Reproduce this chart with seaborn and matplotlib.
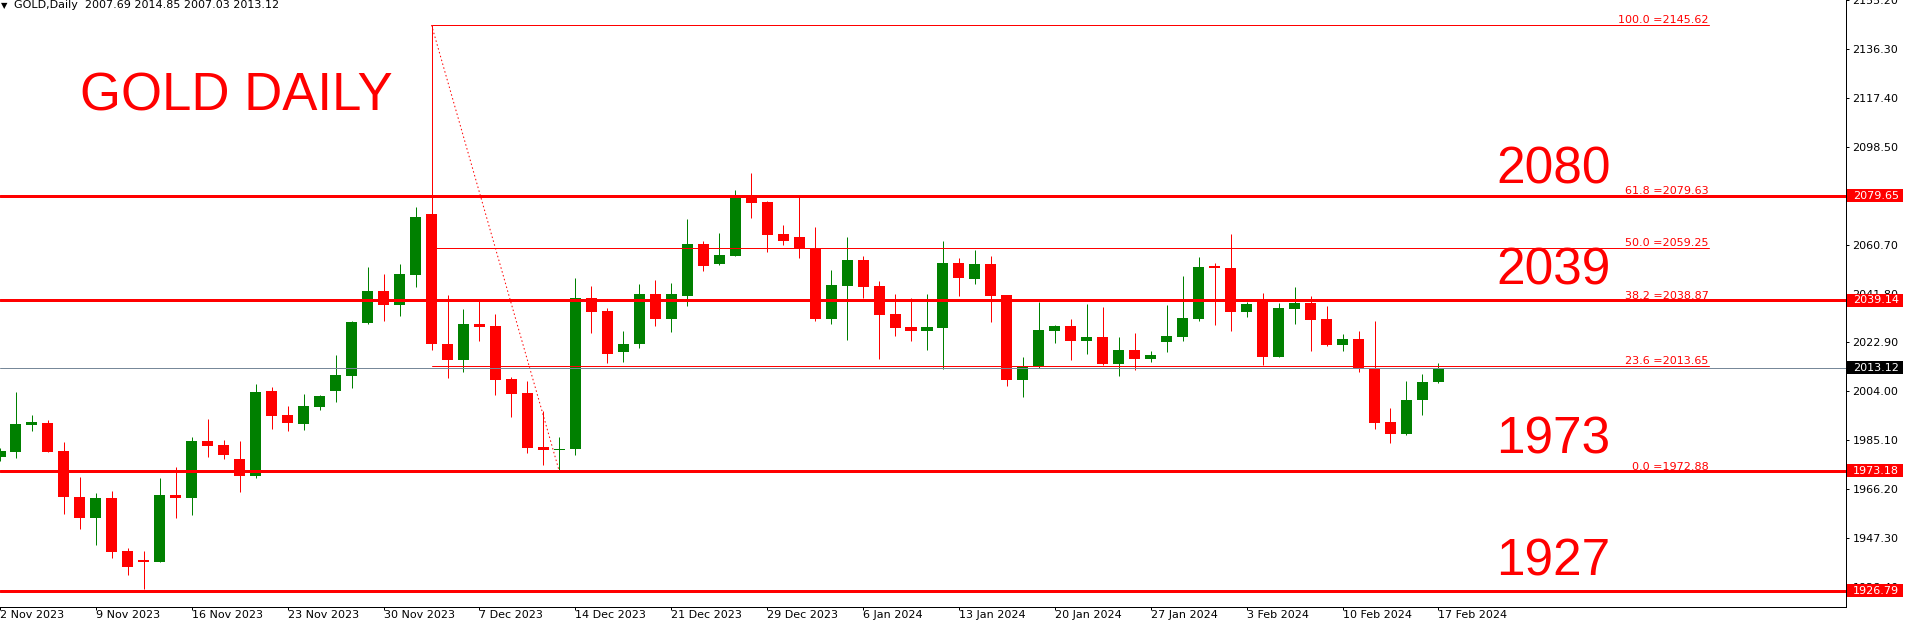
import numpy as np
import pandas as pd
import matplotlib
matplotlib.use("Agg")
import matplotlib.pyplot as plt
import matplotlib.transforms as mtransforms
from matplotlib.patches import Rectangle
import seaborn as sns

# Datos de las velas (barra -1 .. 89)
bars = list(range(-1, 90))
opens = [1978.7, 1980.7, 1991.1, 1991.8, 1980.8, 1963.2, 1955.0, 1962.9, 1942.2, 1938.8,
         1938.1, 1964.0, 1962.6, 1984.7, 1983.1, 1977.8, 1971.4, 2004.0, 1994.8, 1991.4,
         1998.0, 2004.3, 2009.9, 2030.4, 2042.7, 2037.3, 2048.9, 2072.5, 2022.4, 2016.0,
         2030.1, 2029.4, 2008.8, 2003.4, 1982.3, 1981.1, 1981.5, 2040.1, 2035.1, 2019.3,
         2022.1, 2041.7, 2032.0, 2040.9, 2061.0, 2053.3, 2056.4, 2078.7, 2077.2, 2064.8,
         2063.6, 2059.4, 2032.0, 2044.8, 2054.8, 2044.8, 2034.0, 2028.9, 2027.3, 2028.6,
         2053.5, 2047.5, 2053.1, 2041.2, 2008.5, 2013.2, 2027.3, 2029.3, 2023.4, 2025.0,
         2014.6, 2020.0, 2016.6, 2023.1, 2025.0, 2031.9, 2052.1, 2051.6, 2034.6, 2039.3,
         2017.3, 2035.8, 2038.1, 2031.9, 2021.9, 2024.2, 2013.0, 1992.3, 1987.3, 2000.5,
         2007.69]
highs = [1982.0, 2003.8, 1994.9, 1992.9, 1984.3, 1970.9, 1964.8, 1965.5, 1943.3, 1942.2,
         1970.5, 1974.7, 1986.2, 1993.1, 1985.0, 1984.7, 2006.8, 2005.7, 1998.2, 2003.0,
         2002.4, 2018.0, 2031.2, 2052.0, 2049.3, 2053.1, 2075.1, 2145.62, 2041.2, 2035.8,
         2039.1, 2034.0, 2009.6, 2007.8, 1996.5, 1986.5, 2047.9, 2044.8, 2036.3, 2027.4,
         2045.6, 2047.1, 2045.9, 2070.6, 2062.1, 2065.2, 2081.8, 2088.3, 2077.4, 2068.2,
         2079.0, 2067.5, 2050.9, 2063.6, 2056.4, 2046.6, 2041.7, 2039.9, 2041.8, 2062.1,
         2055.5, 2058.6, 2056.2, 2041.4, 2017.3, 2038.6, 2029.6, 2032.0, 2037.7, 2036.7,
         2025.0, 2026.6, 2019.4, 2037.3, 2048.5, 2055.8, 2053.5, 2065.0, 2038.5, 2041.9,
         2038.1, 2044.3, 2040.8, 2036.9, 2026.2, 2027.3, 2031.2, 1997.7, 2008.1, 2010.8,
         2014.85]
lows = [1977.0, 1978.3, 1988.7, 1980.5, 1956.4, 1950.6, 1944.6, 1939.5, 1932.8, 1927.4,
        1938.0, 1955.0, 1956.1, 1978.7, 1977.9, 1964.9, 1970.6, 1989.4, 1988.7, 1989.0,
        1996.6, 2000.0, 2005.4, 2030.0, 2031.2, 2033.1, 2044.3, 2019.8, 2009.3, 2011.6,
        2023.5, 2002.4, 1994.2, 1980.3, 1975.4, 1972.88, 1979.5, 2026.6, 2015.0, 2015.5,
        2020.9, 2029.4, 2027.1, 2037.1, 2050.5, 2052.8, 2056.2, 2071.0, 2057.9, 2060.5,
        2055.6, 2031.2, 2030.1, 2024.0, 2040.1, 2016.6, 2025.5, 2023.5, 2020.0, 2012.7,
        2040.9, 2045.5, 2030.9, 2005.9, 2001.7, 2013.0, 2022.8, 2016.2, 2018.6, 2014.2,
        2009.8, 2012.1, 2015.5, 2019.0, 2023.5, 2031.2, 2029.6, 2027.3, 2032.7, 2014.2,
        2017.1, 2030.0, 2019.6, 2021.6, 2019.6, 2011.5, 1989.6, 1983.9, 1986.9, 1994.7,
        2007.03]
closes = [1980.9, 1991.4, 1992.1, 1980.7, 1963.0, 1955.0, 1962.9, 1941.9, 1936.2, 1938.1,
          1964.0, 1962.6, 1984.7, 1982.9, 1979.4, 1971.4, 2003.8, 1994.5, 1991.9, 1998.2,
          2002.1, 2010.3, 2030.8, 2042.7, 2037.3, 2049.3, 2071.3, 2022.1, 2016.0, 2030.1,
          2028.9, 2008.5, 2003.1, 1982.0, 1981.1, 1981.8, 2040.1, 2034.7, 2018.6, 2022.4,
          2041.7, 2032.0, 2041.7, 2061.0, 2052.5, 2056.7, 2078.7, 2076.7, 2064.4, 2062.1,
          2059.1, 2032.0, 2045.1, 2054.8, 2044.3, 2033.5, 2028.6, 2027.3, 2028.9, 2053.5,
          2047.8, 2053.1, 2040.9, 2008.5, 2013.6, 2027.7, 2029.3, 2023.6, 2025.0, 2014.6,
          2020.0, 2016.6, 2018.1, 2025.4, 2032.3, 2051.9, 2051.7, 2034.6, 2037.7, 2017.3,
          2036.2, 2038.1, 2031.6, 2021.9, 2024.2, 2012.7, 1991.9, 1987.3, 2000.8, 2007.7,
          2013.12]

# Etiquetas del eje X (cada 6 barras)
date_ticks = [-1, 5, 11, 17, 23, 29, 35, 41, 47, 53, 59, 65, 71, 77, 83, 89]
date_labels = ['2 Nov 2023', '9 Nov 2023', '16 Nov 2023', '23 Nov 2023', '30 Nov 2023',
               '7 Dec 2023', '14 Dec 2023', '21 Dec 2023', '29 Dec 2023', '6 Jan 2024',
               '13 Jan 2024', '20 Jan 2024', '27 Jan 2024', '3 Feb 2024', '10 Feb 2024',
               '17 Feb 2024']

# Niveles horizontales y textos grandes
level_prices = [2079.65, 2039.14, 1973.18, 1926.79]
big_labels = ['2080', '2039', '1973', '1927']
big_label_y = [2084.3, 2045.2, 1980.0, 1932.7]
bid_price = 2013.12

# Fibonacci
fib_start, fib_end = 26, 34
fib_pct = ['100.0', '61.8', '50.0', '38.2', '23.6', '0.0']
fib_prices = [2145.62, 2079.63, 2059.25, 2038.87, 2013.65, 1972.88]

y_ticks = [2155.20 - 18.9 * i for i in range(13)]

df = pd.DataFrame({'bar': bars, 'open': opens, 'high': highs, 'low': lows, 'close': closes})
df['up'] = df['close'] >= df['open']
df['color'] = np.where(df['up'], '#008000', '#ff0000')
df['bottom'] = df[['open', 'close']].min(axis=1)
df['height'] = (df['close'] - df['open']).abs().clip(lower=0.7)

sns.set_theme(style='white')
plt.rcParams['font.family'] = ['DejaVu Sans']

PX = 0.72  # 1 pixel en puntos
fig = plt.figure(figsize=(19.11, 6.27), dpi=100)
ax = fig.add_axes([0, 20.3 / 627, 1846 / 1911, 1 - 20.3 / 627])
ax.set_facecolor('white')

# Velas
ax.vlines(df['bar'], df['low'], df['high'], colors=df['color'], linewidth=1.0 * PX, zorder=2)
ax.bar(df['bar'], df['height'], bottom=df['bottom'], width=0.69, color=df['color'],
       linewidth=0, zorder=3)

# Fibonacci
for pct, p in zip(fib_pct, fib_prices):
    ax.plot([fib_start, 105.9], [p, p], color='#ff0000', linewidth=1.0 * PX, zorder=4)
    ax.annotate(f'{pct} ={p:.2f}', xy=(105.9, p), xytext=(0, 2), textcoords='offset pixels',
                ha='right', va='baseline', color='#ff0000', fontsize=8, zorder=4)
ax.plot([fib_start, fib_end], [fib_prices[0], fib_prices[-1]], color='#ff0000',
        linewidth=1.0 * PX, linestyle=(0, (1.5, 2.5)), zorder=4)

# Línea bid
ax.axhline(bid_price, color='#778899', linewidth=1.0 * PX, zorder=4)

# Niveles gruesos
for p in level_prices:
    ax.axhline(p, color='#ff0000', linewidth=3.0 * PX, zorder=5)

# Textos grandes
for txt, yy in zip(big_labels, big_label_y):
    ax.text(92.6, yy, txt, color='#ff0000', fontsize=37, family='Liberation Sans',
            ha='left', va='baseline', zorder=6)
ax.text(4.0, 2112.5, 'GOLD DAILY', color='#ff0000', fontsize=38, family='Liberation Sans',
        ha='left', va='baseline', zorder=6)

ax.set_xlim(-0.83, 114.5)
ax.set_ylim(1920.7, 2155.3)

# Ejes
for side in ['left', 'top']:
    ax.spines[side].set_visible(False)
for side in ['right', 'bottom']:
    ax.spines[side].set_color('black')
    ax.spines[side].set_linewidth(1.0 * PX)

ax.yaxis.tick_right()
ax.set_yticks(y_ticks)
ax.set_yticklabels([f'{v:.2f}' for v in y_ticks])
ax.tick_params(axis='y', which='major', direction='out', length=3 * PX, width=PX,
               pad=2.4, labelsize=8, labelcolor='black', color='black', right=True, left=False)
ax.set_xticks(date_ticks)
ax.set_xticklabels(date_labels, ha='left')
ax.tick_params(axis='x', which='major', direction='out', length=3 * PX, width=PX,
               pad=0.5, labelsize=8, labelcolor='black', color='black', bottom=True)
ax.grid(False)

# Cajas de precio en el eje derecho
blend = mtransforms.blended_transform_factory(ax.transAxes, ax.transData)
box_w = 56.5 / 1846
box_h = 13 * 0.3859
for p in level_prices + [bid_price]:
    fc = '#000000' if p == bid_price else '#ff0000'
    ax.add_patch(Rectangle((1.0005, p - box_h / 2), box_w, box_h, transform=blend,
                           facecolor=fc, edgecolor='none', clip_on=False, zorder=7))
    ax.text(1853 / 1846, p, f'{p:.2f}', transform=blend, color='white', fontsize=8,
            ha='left', va='center', clip_on=False, zorder=8)

# Cabecera
fig.text(0.5 / 1911, 1 - 1 / 627, '▼', fontsize=6, color='black', ha='left', va='top')
fig.text(14 / 1911, 1 - 0.5 / 627, 'GOLD,Daily  2007.69 2014.85 2007.03 2013.12',
         fontsize=8, color='black', ha='left', va='top')

fig.savefig('out.png', dpi=100, facecolor='white')
